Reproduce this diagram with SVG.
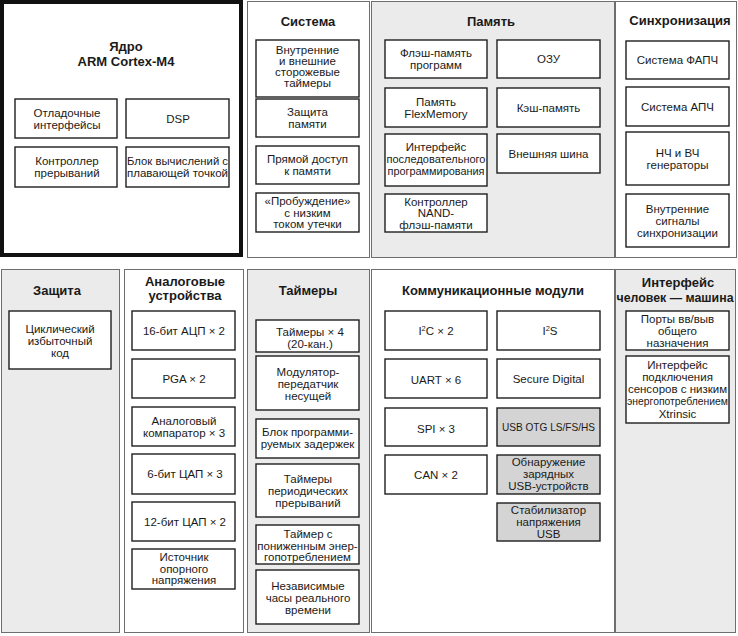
<svg xmlns="http://www.w3.org/2000/svg" width="738" height="636" viewBox="0 0 738 636">
<style>
.pn{stroke:#6e6e6e;stroke-width:1}
.w{fill:#fff}
.g{fill:#ebebeb}
.bx{fill:#fff;stroke:#1e1e1e;stroke-width:1.4}
.bg{fill:#d4d4d4;stroke:#1e1e1e;stroke-width:1.4}
text{font-family:"Liberation Sans",Arial,sans-serif;font-size:11.5px;fill:#1a1a1a;text-anchor:middle}
.t{font-weight:bold;font-size:13px}
</style>
<rect width="738" height="636" fill="#fff"/>
<g id="core">
<rect x="2" y="2" width="239" height="253" fill="#fff" stroke="#111" stroke-width="4"/>
<text class="t"><tspan x="126" y="51">Ядро</tspan><tspan x="126" y="66">ARM Cortex-M4</tspan></text>
<rect class="bx" x="15" y="99" width="102" height="39"/>
<text><tspan x="67" y="116.5">Отладочные</tspan><tspan x="67" y="128.5">интерфейсы</tspan></text>
<rect class="bx" x="126" y="99" width="103" height="39"/>
<text x="178" y="122.5">DSP</text>
<rect class="bx" x="15" y="147" width="102" height="40"/>
<text><tspan x="67" y="165">Контроллер</tspan><tspan x="67" y="177">прерываний</tspan></text>
<rect class="bx" x="126" y="147" width="103" height="40"/>
<text><tspan x="177.5" y="165" textLength="101" lengthAdjust="spacingAndGlyphs">Блок вычислений с</tspan><tspan x="177.5" y="177">плавающей точкой</tspan></text>
</g>
<g id="sistema">
<rect class="pn w" x="247.5" y="1.5" width="122" height="256"/>
<text class="t" x="308" y="26">Система</text>
<rect class="bx" x="256" y="40" width="103" height="57"/>
<text><tspan x="307.5" y="53.5">Внутренние</tspan><tspan x="307.5" y="64.5">и внешние</tspan><tspan x="307.5" y="75.5">сторожевые</tspan><tspan x="307.5" y="86.5">таймеры</tspan></text>
<rect class="bx" x="256" y="99" width="103" height="38"/>
<text><tspan x="307.5" y="116">Защита</tspan><tspan x="307.5" y="128">памяти</tspan></text>
<rect class="bx" x="256" y="146" width="103" height="38"/>
<text><tspan x="307.5" y="163">Прямой доступ</tspan><tspan x="307.5" y="175">к памяти</tspan></text>
<rect class="bx" x="256" y="193" width="103" height="39"/>
<text><tspan x="307.5" y="205">«Пробуждение»</tspan><tspan x="307.5" y="216.5">с низким</tspan><tspan x="307.5" y="228">током утечки</tspan></text>
</g>
<g id="pamyat">
<rect class="pn g" x="371.5" y="1.5" width="243" height="256"/>
<text class="t" x="491" y="26">Память</text>
<rect class="bx" x="385" y="40" width="102" height="38"/>
<text><tspan x="436" y="57">Флэш-память</tspan><tspan x="436" y="69">программ</tspan></text>
<rect class="bx" x="385" y="88" width="102" height="39"/>
<text><tspan x="436" y="105.5">Память</tspan><tspan x="436" y="117.5">FlexMemory</tspan></text>
<rect class="bx" x="385" y="134" width="102" height="52"/>
<text><tspan x="436" y="151">Интерфейс</tspan><tspan x="436" y="163" textLength="99" lengthAdjust="spacingAndGlyphs">последовательного</tspan><tspan x="436" y="175" textLength="97" lengthAdjust="spacingAndGlyphs">программирования</tspan></text>
<rect class="bx" x="385" y="194" width="102" height="38"/>
<text><tspan x="436" y="205.5">Контроллер</tspan><tspan x="436" y="217">NAND-</tspan><tspan x="436" y="228.5">флэш-памяти</tspan></text>
<rect class="bx" x="497" y="40" width="103" height="38"/>
<text x="548.5" y="63">ОЗУ</text>
<rect class="bx" x="497" y="88" width="103" height="39"/>
<text x="548.5" y="111.5">Кэш-память</text>
<rect class="bx" x="497" y="134" width="103" height="39"/>
<text x="548.5" y="157.5">Внешняя шина</text>
</g>
<g id="sinhr">
<rect class="pn w" x="615.5" y="1.5" width="121" height="256"/>
<text class="t" x="680" y="25">Синхронизация</text>
<rect class="bx" x="626" y="41" width="103" height="38"/>
<text x="677.5" y="64">Система ФАПЧ</text>
<rect class="bx" x="626" y="87" width="103" height="39"/>
<text x="677.5" y="110.5">Система АПЧ</text>
<rect class="bx" x="626" y="132" width="103" height="53"/>
<text><tspan x="677.5" y="156.5">НЧ и ВЧ</tspan><tspan x="677.5" y="168.5">генераторы</tspan></text>
<rect class="bx" x="626" y="194" width="103" height="53"/>
<text><tspan x="677.5" y="212.5">Внутренние</tspan><tspan x="677.5" y="224.5">сигналы</tspan><tspan x="677.5" y="236.5">синхронизации</tspan></text>
</g>
<g id="zaschita">
<rect class="pn g" x="1.5" y="269.5" width="118" height="363"/>
<text class="t" x="57" y="295">Защита</text>
<rect class="bx" x="9" y="311" width="102" height="58"/>
<text><tspan x="60" y="333">Циклический</tspan><tspan x="60" y="345">избыточный</tspan><tspan x="60" y="357">код</tspan></text>
</g>
<g id="analog">
<rect class="pn w" x="124.5" y="269.5" width="119" height="363"/>
<text class="t"><tspan x="185" y="286">Аналоговые</tspan><tspan x="185" y="300">устройства</tspan></text>
<rect class="bx" x="132" y="311" width="103" height="39"/>
<text x="184" y="335">16-бит АЦП × 2</text>
<rect class="bx" x="132" y="359" width="103" height="39"/>
<text x="184" y="382.5">PGA × 2</text>
<rect class="bx" x="132" y="407" width="103" height="39"/>
<text><tspan x="184" y="424.5">Аналоговый</tspan><tspan x="184" y="436.5">компаратор × 3</tspan></text>
<rect class="bx" x="132" y="454" width="103" height="40"/>
<text x="185" y="478">6-бит ЦАП × 3</text>
<rect class="bx" x="132" y="502" width="103" height="39"/>
<text x="185" y="525.5">12-бит ЦАП × 2</text>
<rect class="bx" x="132" y="549" width="103" height="40"/>
<text><tspan x="184" y="561">Источник</tspan><tspan x="184" y="572.5">опорного</tspan><tspan x="184" y="584">напряжения</tspan></text>
</g>
<g id="taimery">
<rect class="pn g" x="247.5" y="269.5" width="122" height="363"/>
<text class="t" x="308" y="295">Таймеры</text>
<rect class="bx" x="256" y="320" width="103" height="32"/>
<text><tspan x="310" y="336">Таймеры × 4</tspan><tspan x="310" y="348">(20-кан.)</tspan></text>
<rect class="bx" x="256" y="356" width="103" height="54"/>
<text><tspan x="308" y="376">Модулятор-</tspan><tspan x="308" y="388">передатчик</tspan><tspan x="308" y="400">несущей</tspan></text>
<rect class="bx" x="256" y="419" width="103" height="39"/>
<text><tspan x="307.5" y="435.5">Блок программи-</tspan><tspan x="307.5" y="447.5">руемых задержек</tspan></text>
<rect class="bx" x="256" y="464" width="103" height="53"/>
<text><tspan x="308" y="483">Таймеры</tspan><tspan x="308" y="495">периодических</tspan><tspan x="308" y="507">прерываний</tspan></text>
<rect class="bx" x="256" y="525" width="103" height="39"/>
<text><tspan x="308" y="538">Таймер с</tspan><tspan x="307.5" y="549.5">пониженным энер-</tspan><tspan x="307.5" y="561">гопотреблением</tspan></text>
<rect class="bx" x="256" y="570" width="103" height="54"/>
<text><tspan x="308" y="590">Независимые</tspan><tspan x="308" y="602">часы реального</tspan><tspan x="308" y="614">времени</tspan></text>
</g>
<g id="komm">
<rect class="pn w" x="371.5" y="269.5" width="243" height="363"/>
<text class="t" x="493" y="295">Коммуникационные модули</text>
<rect class="bx" x="385" y="311" width="102" height="39"/>
<text x="436" y="335">I<tspan font-size="7.5" dy="-4.5">2</tspan><tspan dy="4.5">C × 2</tspan></text>
<rect class="bx" x="385" y="359" width="102" height="39"/>
<text x="436" y="384">UART × 6</text>
<rect class="bx" x="385" y="408" width="102" height="38"/>
<text x="436" y="433">SPI × 3</text>
<rect class="bx" x="385" y="455" width="102" height="39"/>
<text x="436" y="478.5">CAN × 2</text>
<rect class="bx" x="497" y="311" width="103" height="39"/>
<text x="550" y="335">I<tspan font-size="7.5" dy="-4.5">2</tspan><tspan dy="4.5">S</tspan></text>
<rect class="bx" x="497" y="359" width="103" height="39"/>
<text x="548.5" y="383">Secure Digital</text>
<rect class="bg" x="497" y="408" width="103" height="38"/>
<text x="548.5" y="431" textLength="93" lengthAdjust="spacingAndGlyphs">USB OTG LS/FS/HS</text>
<rect class="bg" x="497" y="455" width="103" height="39"/>
<text><tspan x="548.5" y="466">Обнаружение</tspan><tspan x="548.5" y="478">зарядных</tspan><tspan x="548.5" y="490">USB-устройств</tspan></text>
<rect class="bg" x="497" y="503" width="103" height="38"/>
<text><tspan x="548.5" y="514">Стабилизатор</tspan><tspan x="548.5" y="526">напряжения</tspan><tspan x="548.5" y="538">USB</tspan></text>
</g>
<g id="hmi">
<rect class="pn g" x="615.5" y="269.5" width="120" height="363"/>
<text class="t"><tspan x="678" y="287">Интерфейс</tspan><tspan x="675" y="302" font-size="12.5" textLength="117" lengthAdjust="spacingAndGlyphs">человек — машина</tspan></text>
<rect class="bx" x="626" y="311" width="103" height="39"/>
<text><tspan x="677.5" y="323">Порты вв/выв</tspan><tspan x="677.5" y="335">общего</tspan><tspan x="677.5" y="347">назначения</tspan></text>
<rect class="bx" x="626" y="356" width="103" height="67"/>
<text><tspan x="677.5" y="369">Интерфейс</tspan><tspan x="677.5" y="381">подключения</tspan><tspan x="677.5" y="393">сенсоров с низким</tspan><tspan x="677.5" y="405" textLength="101" lengthAdjust="spacingAndGlyphs">энергопотреблением</tspan><tspan x="677.5" y="418">Xtrinsic</tspan></text>
</g>
<g id="connectors"/>
</svg>
